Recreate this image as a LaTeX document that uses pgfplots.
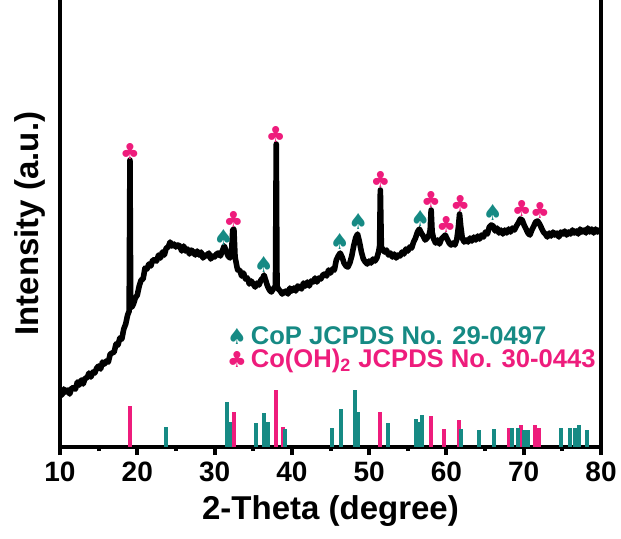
\documentclass[border=0pt]{standalone}
\usepackage{fontspec}
\setmainfont{Liberation Sans}
\newfontfamily\symf{DejaVu Sans}
\usepackage{pgfplots}
\pgfplotsset{compat=1.18}
\usetikzlibrary{calc}
\definecolor{cpink}{RGB}{238,28,124}
\definecolor{cteal}{RGB}{22,138,132}

\begin{document}
\begin{tikzpicture}
\begin{axis}[
  scale only axis,
  width=270.5pt, height=223.5pt,
  xmin=10, xmax=80, ymin=5, ymax=452,
  axis x line*=bottom, axis y line*=left,
  axis line style={line width=2pt, line cap=rect},
  xtick={10,20,...,80}, minor x tick num=1,
  ytick=\empty,
  tick align=outside,
  major tick length=4pt, minor tick length=2pt,
  major tick style={black, line width=2pt},
  minor tick style={black, line width=2pt},
  /pgf/number format/assume math mode=true,
  x tick label style={font=\fontsize{14}{14}\selectfont\bfseries},
  xlabel={2-Theta (degree)},
  ylabel={Intensity (a.u.)},
  label style={font=\fontsize{16.5}{16.5}\selectfont\bfseries},
  xlabel style={at={(axis description cs:0.5,-0.144)}, anchor=center},
  ylabel style={at={(axis description cs:-0.0555,0.5)}, anchor=center},
  clip mode=individual,
  legend cell align=left,
  legend style={draw=none, fill=none, at={(axis description cs:0.297,0.289)}, anchor=north west,
    font=\fontsize{12.8}{12.8}\selectfont\bfseries, row sep=-3pt},
  legend image code/.code={\draw[#1] plot coordinates {(0.12cm,0cm)};},
]
% reference sticks
\addplot[forget plot, ycomb, cpink, line width=2pt] coordinates {
  (19.1,46) (32.55,40) (38.0,62) (38.8,25) (51.4,40) (58.0,36) (59.65,23)
  (61.6,32) (68.1,23.6) (69.6,27) (71.4,27) (72.0,24)
};
\addplot[forget plot, ycomb, cteal, line width=2pt] coordinates {
  (23.7,24.7) (31.6,49.8) (32.0,29.7) (35.4,29) (36.4,38.7) (36.85,29.7)
  (39.1,22.9) (45.2,24.3) (46.3,42.6) (48.2,62.3) (48.6,39.7) (52.4,29)
  (56.1,32.6) (56.45,30) (56.9,37.2) (61.9,22.9) (64.2,21.8) (66.1,22.9)
  (68.5,23.6) (69.3,23.6) (70.0,22.5) (70.5,21.8) (74.8,23.6) (76.0,23.6)
  (76.6,24.3) (77.2,27) (78.2,22.5) (80.0,21)
};
% XRD pattern
\addplot[forget plot, black, line width=2.8pt, line join=round] table {
10.00 60
10.25 57
10.50 63
10.75 60
11.00 62
11.25 58
11.50 64
11.75 64
12.00 63
12.25 70
12.50 67
12.75 72
13.00 68
13.25 74
13.50 74
13.75 79
14.00 75
14.25 80
14.50 79
14.75 84
15.00 86
15.25 83
15.50 90
15.75 88
16.00 91
16.25 90
16.50 98
16.75 99
17.00 100
17.25 108
17.50 107
17.75 114
18.00 113
18.25 123
18.50 128
18.75 137
18.95 141
19.05 292
19.15 146
19.30 145
19.50 148
19.75 154
20.00 157
20.25 166
20.50 172
20.75 173
21.00 184
21.25 183
21.50 188
21.75 186
22.00 192
22.25 192
22.50 191
22.75 197
23.00 194
23.25 200
23.50 197
23.75 204
24.00 205
24.25 210
24.50 206
24.75 208
25.00 205
25.25 207
25.50 206
25.75 201
26.00 206
26.25 201
26.50 203
26.75 198
27.00 202
27.25 200
27.50 197
27.75 201
28.00 197
28.25 200
28.50 194
28.75 197
29.00 196
29.25 199
29.50 193
29.75 196
30.00 195
30.25 198
30.50 199
30.75 196
31.00 201
31.25 206
31.50 201
31.75 196
32.00 194
32.20 200
32.35 222
32.50 223
32.65 195
32.90 185
33.00 182
33.25 182
33.50 176
33.75 179
34.00 173
34.25 174
34.50 168
34.75 171
35.00 168
35.25 165
35.50 169
35.75 167
36.00 172
36.25 174
36.40 177
36.60 172
36.85 166
37.10 162
37.35 160
37.60 163
37.88 166
37.98 308
38.08 166
38.25 163
38.50 161
38.75 158
39.00 160
39.25 161
39.50 158
39.75 164
40.00 161
40.25 164
40.50 161
40.75 166
41.00 165
41.25 163
41.50 169
41.75 166
42.00 170
42.25 166
42.50 171
42.75 170
43.00 174
43.25 170
43.50 174
43.75 173
44.00 177
44.25 178
44.50 176
44.75 182
45.00 179
45.25 183
45.50 182
45.75 192
46.00 196
46.25 199
46.50 195
46.75 189
47.00 186
47.25 185
47.50 189
47.75 196
48.00 206
48.25 214
48.50 218
48.75 210
49.00 200
49.25 193
49.50 190
49.75 188
50.00 191
50.25 189
50.50 193
50.75 191
51.00 194
51.25 201
51.35 206
51.45 262
51.58 205
51.75 203
52.00 200
52.25 202
52.50 197
52.75 199
53.00 195
53.25 198
53.50 194
53.75 197
54.00 196
54.25 200
54.50 198
54.75 203
55.00 201
55.25 205
55.50 204
55.75 210
56.00 214
56.25 220
56.50 223
56.75 219
57.00 216
57.25 212
57.50 214
57.75 217
57.90 222
58.02 242
58.15 220
58.35 213
58.60 209
58.85 212
59.10 208
59.35 213
59.60 215
59.85 217
60.10 213
60.35 209
60.60 207
60.85 209
61.10 207
61.35 213
61.55 225
61.70 238
61.85 226
62.05 214
62.30 210
62.55 212
62.80 210
63.05 214
63.30 211
63.55 215
63.80 212
64.05 216
64.30 213
64.55 217
64.80 215
65.05 220
65.30 218
65.55 225
65.80 227
66.05 226
66.30 221
66.55 224
66.80 219
67.05 222
67.30 218
67.55 222
67.80 219
68.05 223
68.30 220
68.55 224
68.80 222
69.05 226
69.30 229
69.55 233
69.80 232
70.05 227
70.30 223
70.55 219
70.80 217
71.05 222
71.30 226
71.55 230
71.80 231
72.05 228
72.30 224
72.55 220
72.80 218
73.05 215
73.30 219
73.55 216
73.80 220
74.05 217
74.30 219
74.55 215
74.80 220
75.05 218
75.30 221
75.55 217
75.80 220
76.05 218
76.30 222
76.55 219
76.80 221
77.05 218
77.30 223
77.55 220
77.80 222
78.05 219
78.30 224
78.55 220
78.80 223
79.05 219
79.30 223
79.55 220
79.80 222
80.00 221
};
% phase markers
\addplot[only marks, color=cteal, mark=text,
  text mark={\textcolor{cteal}{\symf\fontsize{11}{11}\selectfont ♠}}]
  coordinates {(31.15,215) (36.36,188) (46.2,211) (48.6,231) (56.6,234) (66.0,240)};
\addlegendentry{\textcolor{cteal}{CoP JCPDS No. 29-0497}}
\addplot[only marks, color=cpink, mark=text,
  text mark={\textcolor{cpink}{\symf\fontsize{11}{11}\selectfont ♣}}]
  coordinates {(19.04,301) (32.44,233) (37.9,318) (51.47,273) (58.0,253)
    (59.96,228) (61.8,249) (69.75,244) (72.1,242)};
\addlegendentry{\textcolor{cpink}{Co(OH)\textsubscript{2} JCPDS No. 30-0443}}
\draw[line width=2pt, line cap=rect] (rel axis cs:1,0) -- (rel axis cs:1,1);
\coordinate (pbl) at (rel axis cs:0,0);
\coordinate (ptr) at (rel axis cs:1,1);
\end{axis}
\pgfresetboundingbox
\path ($(pbl)+(-30pt,-45.5pt)$) rectangle ($(ptr)+(10pt,0pt)$);
\end{tikzpicture}
\end{document}
